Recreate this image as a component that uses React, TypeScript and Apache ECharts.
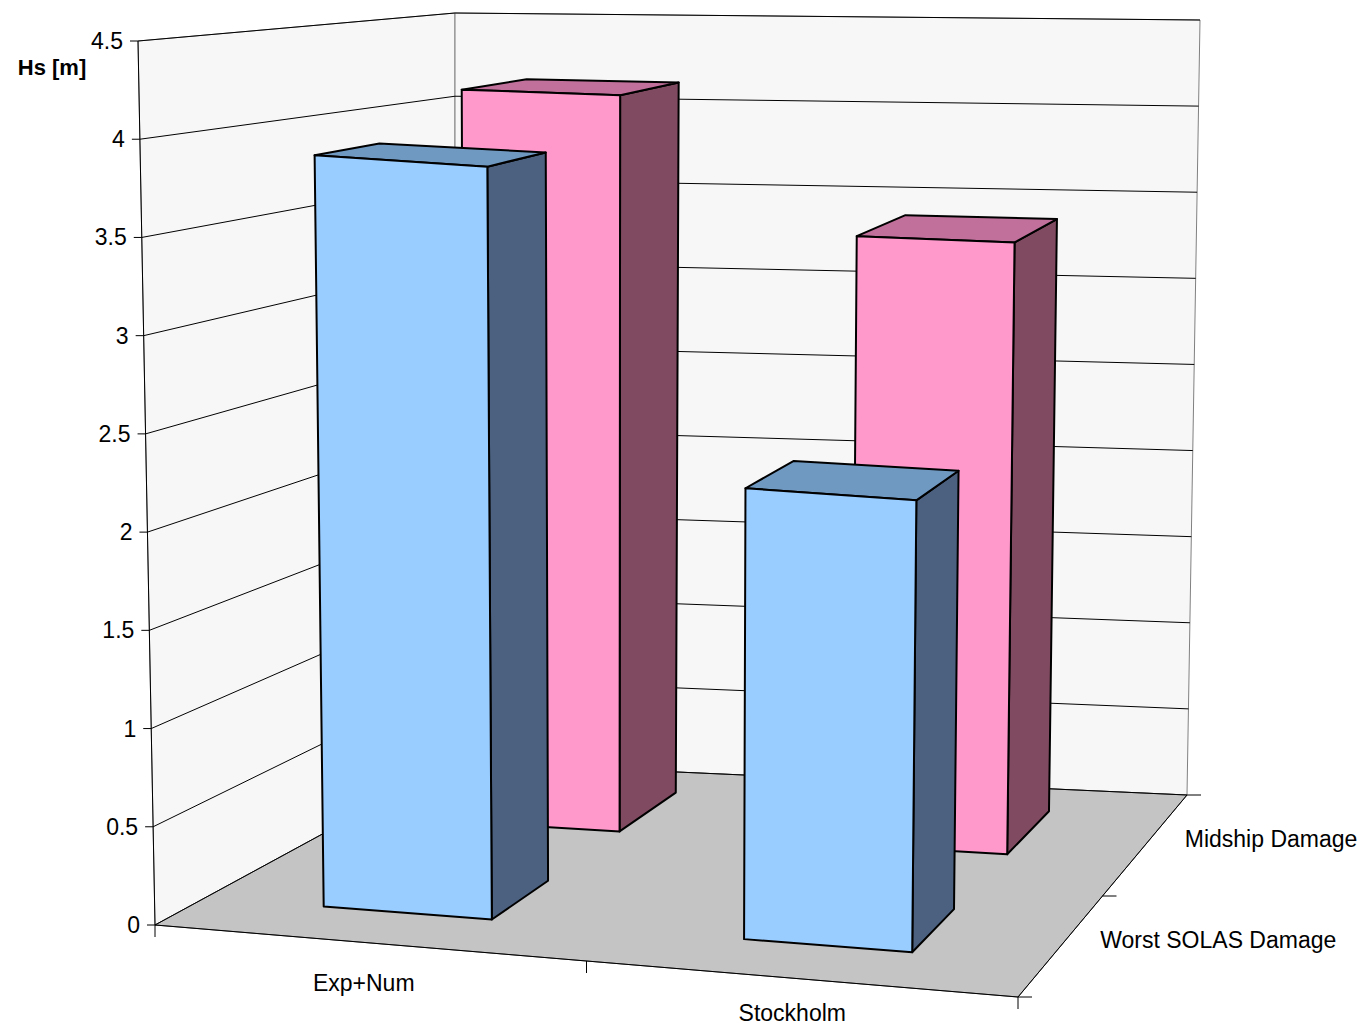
import React, { useEffect, useRef } from "react";
import * as echarts from "echarts";

const categories = ["Exp+Num", "Stockholm"];
const seriesNames = ["Worst SOLAS Damage", "Midship Damage"];
const worstSolas = [3.92, 2.34];
const midship = [4.14, 3.4];
const yTicks = [0, 0.5, 1, 1.5, 2, 2.5, 3, 3.5, 4, 4.5];
const yMax = 4.5;

const FL = [155, 925], FR = [1018, 997], BL = [455, 762], BR = [1187, 795];
const FLt = [138, 41], FRt = [1030, 107], BLt = [455, 13], BRt = [1200, 20];
function bil(a: number[], b: number[], c: number[], d: number[], u: number, w: number) {
  const f = [a[0] + (b[0] - a[0]) * u, a[1] + (b[1] - a[1]) * u];
  const k = [c[0] + (d[0] - c[0]) * u, c[1] + (d[1] - c[1]) * u];
  return [f[0] + (k[0] - f[0]) * w, f[1] + (k[1] - f[1]) * w];
}
function P(u: number, w: number, v: number) {
  const b = bil(FL, FR, BL, BR, u, w);
  const t = bil(FLt, FRt, BLt, BRt, u, w);
  const r = v / yMax;
  return [b[0] + (t[0] - b[0]) * r, b[1] + (t[1] - b[1]) * r];
}

const colors = [
  { front: "#99CCFF", top: "#7099C2", side: "#4B617F" },
  { front: "#FF99CC", top: "#C0709A", side: "#804B60" },
];

export default function App() {
  const ref = useRef<HTMLDivElement>(null);
  useEffect(() => {
    const chart = echarts.init(ref.current!, undefined, { renderer: "svg" });
    const barData: number[][] = [];
    [midship, worstSolas].forEach((arr, k) => {
      const si = k === 0 ? 1 : 0;
      arr.forEach((v, ci) => barData.push([ci, si, v]));
    });
    const font = "23px Arial, 'Liberation Sans', sans-serif";
    chart.setOption({
      animation: false,
      series: [
        {
          type: "custom",
          coordinateSystem: "none",
          silent: true,
          data: [0],
          renderItem: () => {
            const ch: any[] = [];
            const poly = (pts: number[][], fill: string, stroke = "#808080") =>
              ch.push({ type: "polygon", shape: { points: pts }, style: { fill, stroke, lineWidth: 1 } });
            poly([P(0, 0, 0), P(0, 1, 0), P(0, 1, yMax), P(0, 0, yMax)], "#F7F7F7");
            poly([P(0, 1, 0), P(1, 1, 0), P(1, 1, yMax), P(0, 1, yMax)], "#F7F7F7");
            poly([P(0, 0, 0), P(1, 0, 0), P(1, 1, 0), P(0, 1, 0)], "#C4C4C4", "#555");
            yTicks.forEach((t) => {
              const a = P(0, 0, t), b = P(0, 1, t), c = P(1, 1, t);
              ch.push({ type: "polyline", shape: { points: [a, b, c] }, style: { stroke: "#000", lineWidth: 1, fill: "none" } });
              ch.push({ type: "line", shape: { x1: a[0] - 8, y1: a[1], x2: a[0], y2: a[1] }, style: { stroke: "#000", lineWidth: 1 } });
              ch.push({ type: "text", style: { text: String(t), x: a[0] - 15, y: a[1], align: "right", verticalAlign: "middle", font, fill: "#000" } });
            });
            ch.push({ type: "line", shape: { x1: P(0, 0, 0)[0], y1: P(0, 0, 0)[1], x2: P(0, 0, yMax)[0], y2: P(0, 0, yMax)[1] }, style: { stroke: "#000", lineWidth: 1 } });
            ch.push({ type: "line", shape: { x1: FL[0], y1: FL[1], x2: FR[0], y2: FR[1] }, style: { stroke: "#000", lineWidth: 1 } });
            ch.push({ type: "line", shape: { x1: FR[0], y1: FR[1], x2: BR[0], y2: BR[1] }, style: { stroke: "#000", lineWidth: 1 } });
            [0, 0.5, 1].forEach((u) => {
              const p = P(u, 0, 0);
              ch.push({ type: "line", shape: { x1: p[0], y1: p[1], x2: p[0], y2: p[1] + 12 }, style: { stroke: "#000", lineWidth: 1 } });
              const q = P(1, u, 0);
              ch.push({ type: "line", shape: { x1: q[0], y1: q[1], x2: q[0] + 14, y2: q[1] }, style: { stroke: "#000", lineWidth: 1 } });
            });
            categories.forEach((c, i) => {
              const p = P(i * 0.5 + 0.25, 0, 0);
              ch.push({ type: "text", style: { text: c, x: p[0] - 7 - i * 3, y: p[1] + 40 - i * 6, align: "center", verticalAlign: "middle", font, fill: "#000" } });
            });
            seriesNames.forEach((s, i) => {
              const p = P(1, i * 0.5 + 0.25, 0);
              ch.push({ type: "text", style: { text: s, x: p[0] + 40, y: p[1] - 7, align: "left", verticalAlign: "middle", font, fill: "#000" } });
            });
            ch.push({ type: "text", style: { text: "Hs [m]", x: 52, y: 67, align: "center", verticalAlign: "middle", font: "bold 22px Arial, 'Liberation Sans', sans-serif", fill: "#000" } });
            return { type: "group", children: ch };
          },
        },
        {
          type: "custom",
          coordinateSystem: "none",
          silent: true,
          data: barData,
          renderItem: (params: any, api: any) => {
            const ci = api.value(0), si = api.value(1), v = api.value(2);
            const u0 = ci * 0.5 + 0.14, u1 = ci * 0.5 + 0.34;
            const w0 = si * 0.5 + 0.17, w1 = si * 0.5 + 0.39;
            const c = colors[si];
            const st = { stroke: "#000", lineWidth: 2, lineJoin: "round" };
            return {
              type: "group",
              children: [
                { type: "polygon", shape: { points: [P(u1, w0, 0), P(u1, w1, 0), P(u1, w1, v), P(u1, w0, v)] }, style: { fill: c.side, ...st } },
                { type: "polygon", shape: { points: [P(u0, w0, v), P(u1, w0, v), P(u1, w1, v), P(u0, w1, v)] }, style: { fill: c.top, ...st } },
                { type: "polygon", shape: { points: [P(u0, w0, 0), P(u1, w0, 0), P(u1, w0, v), P(u0, w0, v)] }, style: { fill: c.front, ...st } },
              ],
            };
          },
        },
      ],
    });
    return () => chart.dispose();
  }, []);
  return <div ref={ref} style={{ position: "fixed", left: 0, top: 0, width: 1372, height: 1030, background: "#fff" }} />;
}
